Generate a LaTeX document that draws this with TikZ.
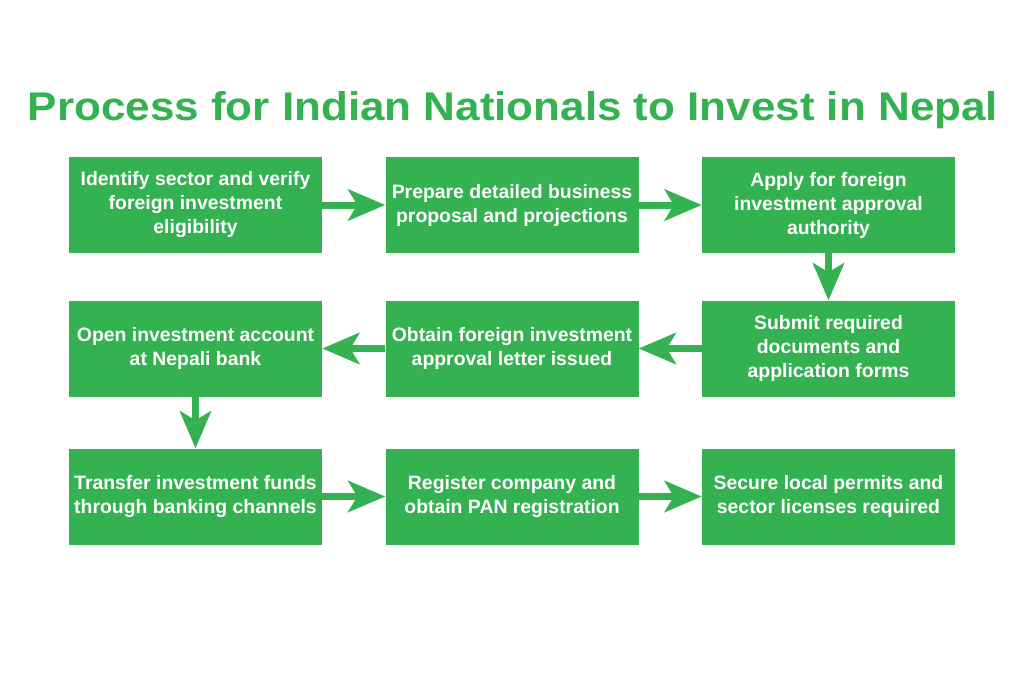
\documentclass[tikz,border=0pt]{standalone}
\usepackage{fontspec}
\setmainfont{Liberation Sans}
\usetikzlibrary{arrows.meta}
\definecolor{pgreen}{RGB}{52,177,80}
\begin{document}
\begin{tikzpicture}[x=1pt,y=-1pt,
  stepbox/.style={fill=pgreen,draw=none,minimum width=253pt,minimum height=96pt,inner sep=0pt,
    text=white,font=\bfseries\fontsize{19.4}{24}\selectfont,align=center},
  flow/.style={draw=pgreen,line width=7pt,-{Stealth[length=37pt,width=31pt,inset=9pt]}}]
\useasboundingbox (0,0) rectangle (1024,683);
\fill[white] (0,0) rectangle (1024,683);
\node[anchor=base,text=pgreen,inner sep=0pt] (title) at (513,120)
  {\resizebox{970pt}{29pt}{\bfseries Process for Indian Nationals to Invest in Nepal}};
\node[stepbox] (b1) at (195.5,205) {Identify sector and verify\\foreign investment\\eligibility};
\node[stepbox] (b2) at (512,205) {Prepare detailed business\\proposal and projections};
\node[stepbox] (b3) at (828.5,205) {Apply for foreign\\investment approval\\authority};
\node[stepbox] (b4) at (828.5,348.5) {Submit required\\documents and\\application forms};
\node[stepbox] (b5) at (512,348.5) {Obtain foreign investment\\approval letter issued};
\node[stepbox] (b6) at (195.5,348.5) {Open investment account\\at Nepali bank};
\node[stepbox] (b7) at (195.5,496.5) {Transfer investment funds\\through banking channels};
\node[stepbox] (b8) at (512,496.5) {Register company and\\obtain PAN registration};
\node[stepbox] (b9) at (828.5,496.5) {Secure local permits and\\sector licenses required};
\draw[flow] (b1) -- (b2);
\draw[flow] (b2) -- (b3);
\draw[flow] (b3) -- (b4);
\draw[flow] (b4) -- (b5);
\draw[flow] (b5) -- (b6);
\draw[flow] (b6) -- (b7);
\draw[flow] (b7) -- (b8);
\draw[flow] (b8) -- (b9);
\end{tikzpicture}
\end{document}
